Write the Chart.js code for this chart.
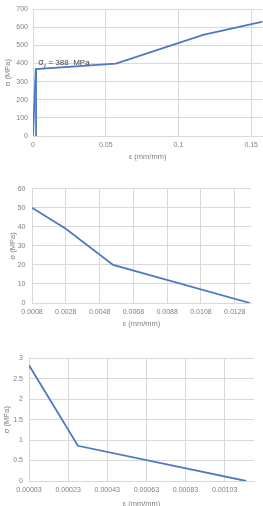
<!DOCTYPE html>
<html><head><meta charset="utf-8">
<script src="https://cdn.jsdelivr.net/npm/chart.js@4/dist/chart.umd.min.js"></script>
<style>
html,body{margin:0;padding:0;background:#fff;overflow:hidden;width:263px;height:506px;position:relative}
.c{position:absolute;left:0;width:263px}
</style></head><body>
<div class="c" style="top:0;height:165px"><canvas id="c1"></canvas></div>
<div class="c" style="top:178px;height:155px"><canvas id="c2"></canvas></div>
<div class="c" style="top:348px;height:165px"><canvas id="c3"></canvas></div>
<script>
// Chart 1: steel
const steelStrain = [0, 0.0019, 0.057, 0.117, 0.158];
const steelStress = [0, 370, 400, 558, 632];
const yieldLineStrain = [0.0021, 0.0021];
const yieldLineStress = [0, 370];
const steelXTicks = [0, 0.05, 0.1, 0.15];
const steelXLabels = ['0', '0.05', '0.1', '0.15'];
const steelYTicks = [0, 100, 200, 300, 400, 500, 600, 700];
const yieldLabel = ['σ', 'y', ' = 388  MPa'];

// Chart 2: concrete compression
const compStrain = [0.0008, 0.0028, 0.0056, 0.0137];
const compStress = [50, 39, 20, 0];
const compXTicks = [0.0008, 0.0028, 0.0048, 0.0068, 0.0088, 0.0108, 0.0128];
const compXLabels = ['0.0008', '0.0028', '0.0048', '0.0068', '0.0088', '0.0108', '0.0128'];
const compYTicks = [0, 10, 20, 30, 40, 50, 60];

// Chart 3: concrete tension
const tensStrain = [0.00003, 0.00028, 0.00114];
const tensStress = [2.83, 0.86, 0];
const tensXTicks = [0.00003, 0.00023, 0.00043, 0.00063, 0.00083, 0.00103];
const tensXLabels = ['0.00003', '0.00023', '0.00043', '0.00063', '0.00083', '0.00103'];
const tensYTicks = [0, 0.5, 1, 1.5, 2, 2.5, 3];
const tensYLabels = ['0', '0.5', '1', '1.5', '2', '2.5', '3'];

const xTitle = 'ε (mm/mm)';
const yTitle = 'σ (MPa)';

const FONT = "'Liberation Sans', Arial, sans-serif";
const LINE = '#4f78c4';
const GRID = '#d9d9d9';
const TXT = '#808080';

function pts(xs, ys) { return xs.map((x, i) => ({x: x, y: ys[i]})); }

function makeChart(id, cfg) {
  const datasets = cfg.series.map(s => ({
    data: pts(s[0], s[1]), borderColor: LINE, borderWidth: 1.8,
    pointRadius: 0, fill: false, tension: 0
  }));
  return new Chart(document.getElementById(id), {
    type: 'scatter',
    data: {datasets: datasets},
    options: {
      responsive: true, maintainAspectRatio: false, animation: false,
      showLine: true,
      layout: {padding: {top: cfg.padTop, right: cfg.padRight, left: 0, bottom: 0}},
      plugins: {legend: {display: false}, tooltip: {enabled: false}},
      scales: {
        x: {
          type: 'linear', min: cfg.xMin, max: cfg.xMax,
          afterBuildTicks: s => { s.ticks = cfg.xTicks.map(v => ({value: v})); },
          afterFit: s => { s.height = cfg.bottomH; },
          grid: {color: GRID, drawTicks: false, lineWidth: 1},
          border: {color: GRID},
          ticks: {
            padding: cfg.xTickPad, color: TXT, font: {family: FONT, size: 7},
            maxRotation: 0, autoSkip: false,
            callback: (v, i) => cfg.xLabels[i]
          },
          title: {display: true, text: xTitle, color: TXT, font: {family: FONT, size: 7.5},
                  padding: {top: 0, bottom: cfg.xTitlePad}}
        },
        y: {
          type: 'linear', min: cfg.yMin, max: cfg.yMax,
          afterBuildTicks: s => { s.ticks = cfg.yTicks.map(v => ({value: v})); },
          afterFit: s => { s.width = cfg.leftW; },
          grid: {color: GRID, drawTicks: false, lineWidth: 1},
          border: {color: GRID},
          ticks: {
            padding: cfg.yTickPad, color: TXT, font: {family: FONT, size: 7},
            callback: (v, i) => cfg.yLabels ? cfg.yLabels[i] : String(v)
          },
          title: {display: true, text: yTitle, color: TXT, font: {family: FONT, size: 7.5},
                  padding: {top: cfg.yTitlePad, bottom: 0}}
        }
      }
    },
    plugins: cfg.plugins || []
  });
}

const yieldAnnot = {
  id: 'yieldAnnot',
  afterDatasetsDraw(chart) {
    const ctx = chart.ctx;
    const x0 = chart.scales.x.getPixelForValue(0.0036);
    const y0 = chart.scales.y.getPixelForValue(392);
    ctx.save();
    ctx.fillStyle = '#404040';
    ctx.textBaseline = 'alphabetic';
    ctx.font = '8.5px ' + FONT;
    ctx.fillText(yieldLabel[0], x0, y0);
    let x = x0 + ctx.measureText(yieldLabel[0]).width;
    ctx.font = '5.5px ' + FONT;
    ctx.fillText(yieldLabel[1], x, y0 + 2);
    x += ctx.measureText(yieldLabel[1]).width;
    ctx.font = '8px ' + FONT;
    ctx.fillText(yieldLabel[2], x, y0);
    ctx.restore();
  }
};

makeChart('c1', {
  series: [[steelStrain, steelStress], [yieldLineStrain, yieldLineStress]],
  xMin: 0, xMax: 0.1577, yMin: 0, yMax: 700,
  xTicks: steelXTicks, xLabels: steelXLabels, yTicks: steelYTicks,
  padTop: 5, padRight: 0, leftW: 33, bottomH: 29,
  xTickPad: 5, xTitlePad: 3.5, yTickPad: 5, yTitlePad: 3.5,
  plugins: [yieldAnnot]
});

makeChart('c2', {
  series: [[compStrain, compStress]],
  xMin: 0.0008, xMax: 0.01376, yMin: 0, yMax: 60,
  xTicks: compXTicks, xLabels: compXLabels, yTicks: compYTicks,
  padTop: 7, padRight: 12, leftW: 32, bottomH: 30,
  xTickPad: 4.5, xTitlePad: 4.5, yTickPad: 6.5, yTitlePad: 8
});

makeChart('c3', {
  series: [[tensStrain, tensStress]],
  xMin: 0.00003, xMax: 0.00118, yMin: 0, yMax: 3,
  xTicks: tensXTicks, xLabels: tensXLabels, yTicks: tensYTicks, yLabels: tensYLabels,
  padTop: 8, padRight: 9, leftW: 29, bottomH: 32,
  xTickPad: 5, xTitlePad: 5, yTickPad: 6, yTitlePad: 2.8
});
</script>
</body></html>
